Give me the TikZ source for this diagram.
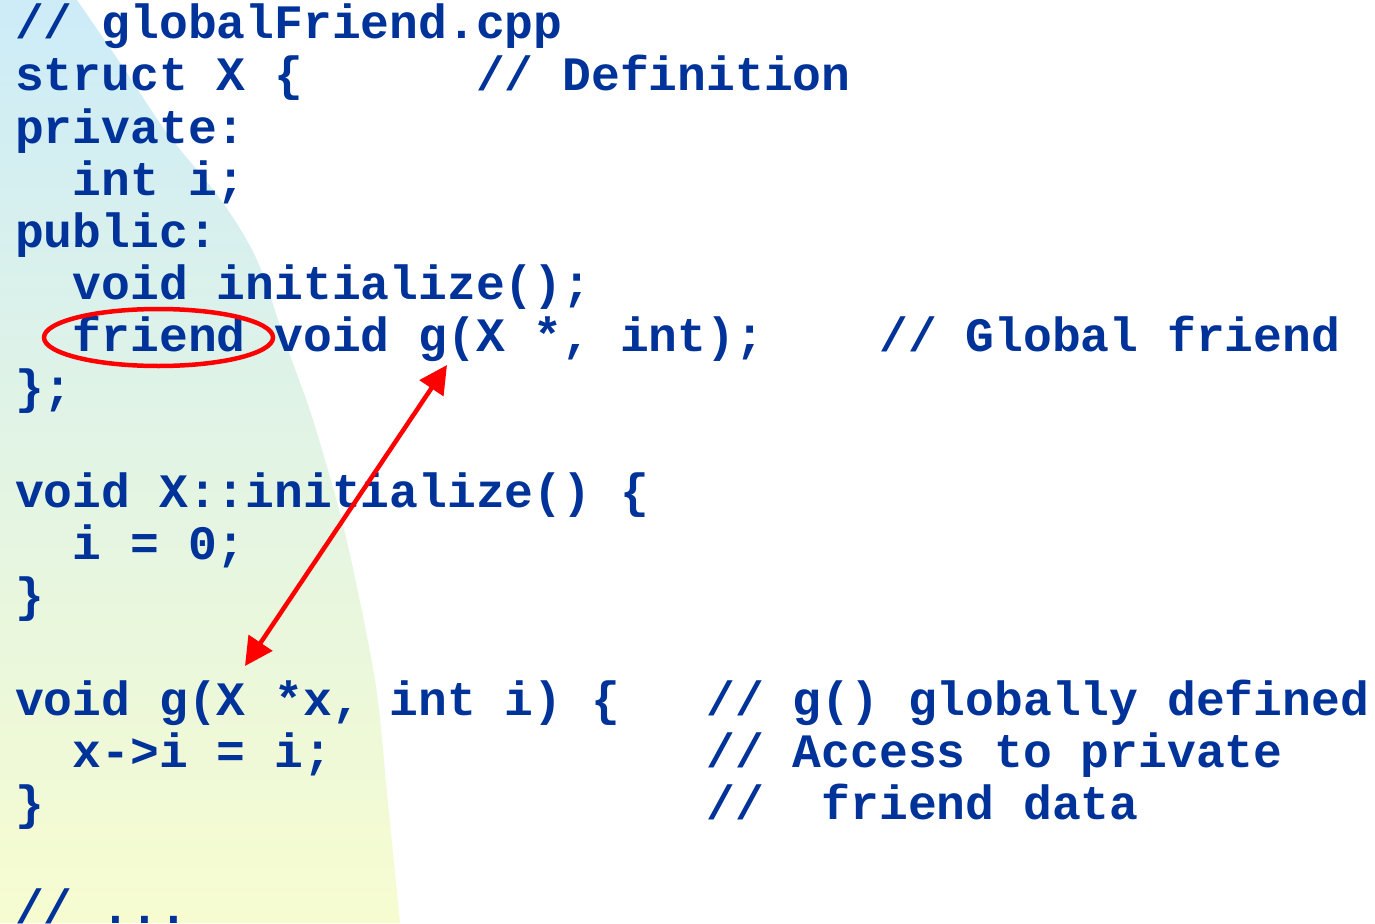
\documentclass[tikz,border=0pt]{standalone}
\usepackage{fontspec}
\usepackage{tikz}
\usetikzlibrary{arrows.meta,shapes.geometric}
\newfontfamily\codefont{Liberation Mono}
\definecolor{codeblue}{RGB}{0,51,153}
\definecolor{skytop}{RGB}{205,236,248}
\definecolor{lemonbottom}{RGB}{247,252,208}
\frenchspacing

\begin{document}
\begin{tikzpicture}[x=1pt,y=1pt,
        code/.style={anchor=base west, inner sep=0pt, text=codeblue,
            font=\codefont\bfseries\fontsize{48}{52}\selectfont},
        ring/.style={ellipse, draw=red, line width=4.5pt, inner sep=0pt,
            minimum width=229pt, minimum height=57pt},
        link/.style={draw=red, line width=4.5pt,
            {Triangle[length=28pt,width=28pt]}-{Triangle[length=28pt,width=28pt]}}]
        \useasboundingbox (0,0) rectangle (1375,-923);
        % background sweep
        \shade [top color=skytop, bottom color=lemonbottom] (0,0) -- plot [smooth] coordinates {(77,0) (123,-67) (167,-133) (221,-200) (257,-260) (287,-347) (313,-420) (345,-533) (375,-680) (387,-793) (400,-923)} -- (0,-923) -- cycle;
        \begin{scope}[shift={(15pt,-39pt)}, x=28.8pt, y=-52pt]
        \node [code] (file) at (0,0) {// globalFriend.cpp};
        \node [code] (structx) at (0,1) {struct X \{};
        \node [code] (defcmt) at (16,1) {// Definition};
        \node [code] (priv) at (0,2) {private:};
        \node [code] (member) at (2,3) {int i;};
        \node [code] (pub) at (0,4) {public:};
        \node [code] (initdecl) at (2,5) {void initialize();};
        \node [code] (friend) at (2,6) {friend};
        \node [code] (gdecl) at (9,6) {void g(X *, int);};
        \node [code] (globcmt) at (30,6) {// Global friend};
        \node [code] (structend) at (0,7) {\};};
        \node [code] (initdef) at (0,9) {void X::initialize() \{};
        \node [code] (initbody) at (2,10) {i = 0;};
        \node [code] (initend) at (0,11) {\}};
        \node [code] (gdef) at (0,13) {void g(X *x, int i) \{};
        \node [code] (gcmt) at (24,13) {// g() globally defined};
        \node [code] (gbody) at (2,14) {x->i = i;};
        \node [code] (acccmt) at (24,14) {// Access to private};
        \node [code] (gend) at (0,15) {\}};
        \node [code] (slashes) at (24,15) {//};
        \node [code] (datacmt) at (28,15) {friend data};
        \node [code] (more) at (0,17) {// ...};
        \end{scope}
        \node [ring] (mark) at (158.5,-337.5) {};
        \coordinate (decl) at (447,-365);
        \coordinate (defn) at (245,-666);
        \draw [link] (defn) -- (decl);
\end{tikzpicture}
\end{document}
